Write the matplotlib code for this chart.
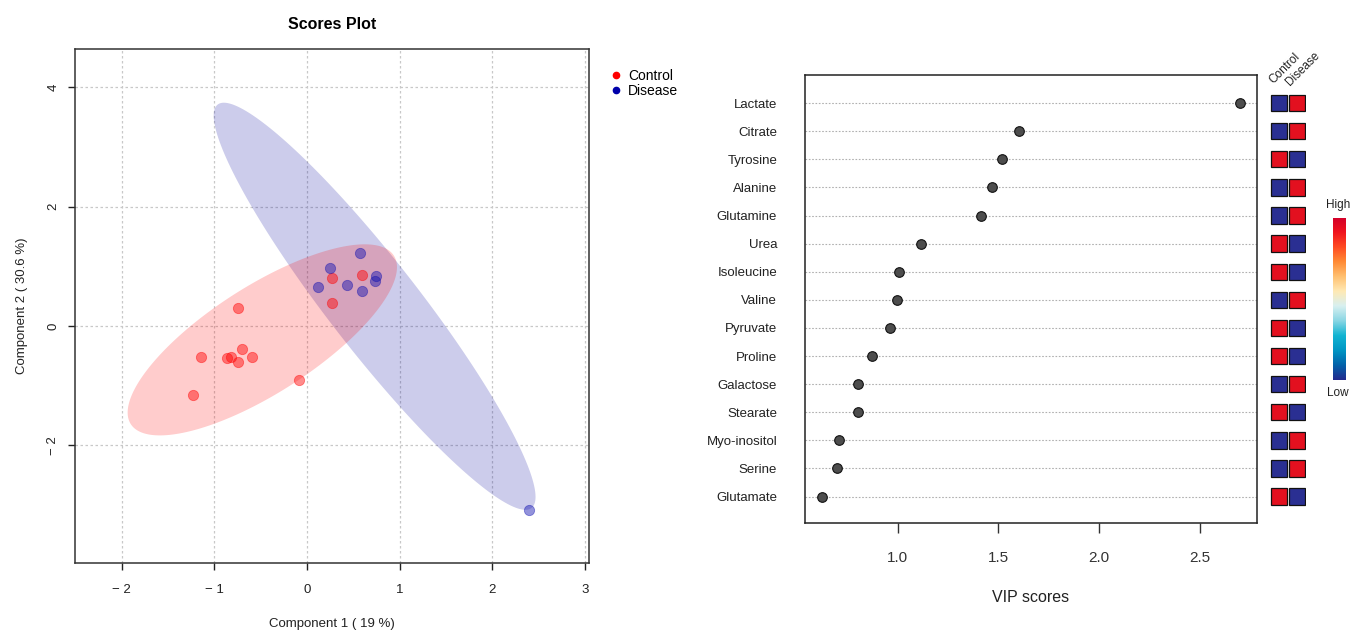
import numpy as np
import matplotlib
matplotlib.use("Agg")
import matplotlib.pyplot as plt
from matplotlib.colors import LinearSegmentedColormap
from matplotlib.lines import Line2D
from matplotlib.patches import Rectangle, Polygon

plt.rcParams['font.family'] = ['Liberation Sans', 'DejaVu Sans']

# ---- Scores plot data ----
ctrl_x = [-0.75, -1.14, -0.86, -0.82, -0.70, -0.74, -0.59, -0.09, -1.23, 0.27, 0.59, 0.27]
ctrl_y = [0.30, -0.52, -0.53, -0.51, -0.38, -0.60, -0.51, -0.90, -1.16, 0.80, 0.86, 0.38]
dis_x = [0.57, 0.25, 0.12, 0.43, 0.59, 0.73, 0.75, 2.40]
dis_y = [1.22, 0.98, 0.66, 0.69, 0.59, 0.76, 0.84, -3.08]

# ---- VIP data ----
metabolites = ["Lactate", "Citrate", "Tyrosine", "Alanine", "Glutamine", "Urea",
               "Isoleucine", "Valine", "Pyruvate", "Proline", "Galactose",
               "Stearate", "Myo-inositol", "Serine", "Glutamate"]
vip = [2.70, 1.60, 1.52, 1.47, 1.415, 1.117, 1.005, 0.995, 0.963, 0.872,
       0.804, 0.804, 0.707, 0.70, 0.623]
# 1 = high, 0 = low
control_level = [0, 0, 1, 0, 0, 1, 1, 0, 1, 1, 0, 1, 0, 0, 1]
disease_level = [1 - v for v in control_level]

W, H = 1351, 631
fig = plt.figure(figsize=(W / 100, H / 100), dpi=100)


def px(l, t, r, b):
    return [l / W, 1 - b / H, (r - l) / W, (b - t) / H]


def conf_ellipse(x, y, n=200):
    x = np.asarray(x); y = np.asarray(y)
    cov = np.cov(x, y)
    vals, vecs = np.linalg.eigh(cov)
    k = np.sqrt(-2 * np.log(0.05))
    t = np.linspace(0, 2 * np.pi, n)
    circ = np.vstack([np.cos(t), np.sin(t)])
    pts = vecs @ (np.sqrt(vals)[:, None] * circ) * k
    return np.column_stack([pts[0] + x.mean(), pts[1] + y.mean()])


# ---- left: scores plot ----
ax1 = fig.add_axes(px(74.7, 48.6, 589.5, 563))
red = '#FF0000'
blue = '#00009B'
ax1.add_patch(Polygon(conf_ellipse(dis_x, dis_y), closed=True, facecolor=blue,
                      alpha=0.2, edgecolor='none', zorder=1))
ax1.add_patch(Polygon(conf_ellipse(ctrl_x, ctrl_y), closed=True, facecolor=red,
                      alpha=0.2, edgecolor='none', zorder=1))
ax1.scatter(ctrl_x, ctrl_y, s=55, color=red, alpha=0.45, edgecolors=red,
            linewidths=0.6, zorder=3)
ax1.scatter(dis_x, dis_y, s=55, color='#1010B0', alpha=0.45, edgecolors='#1010B0',
            linewidths=0.6, zorder=3)
ax1.set_xlim(-2.508, 3.05)
ax1.set_ylim(-3.97, 4.65)
ax1.set_xticks([-2, -1, 0, 1, 2, 3])
ax1.set_xticklabels(['\u2212 2', '\u2212 1', '0', '1', '2', '3'])
ax1.set_yticks([-2, 0, 2, 4])
ax1.set_yticklabels(['\u2212 2', '0', '2', '4'], rotation=90, va='center')
ax1.grid(True, color='#C8C8C8', linestyle=(0, (2, 2)), linewidth=0.9)
ax1.set_axisbelow(True)
ax1.tick_params(direction='out', length=5, width=1, labelsize=9.5,
                colors='#222222')
ax1.tick_params(axis='x', pad=10)
ax1.tick_params(axis='y', pad=6)
for sp in ax1.spines.values():
    sp.set_color('#333333')
    sp.set_linewidth(1.1)
ax1.set_title("Scores Plot", fontsize=11.5, fontweight='bold', pad=14)
ax1.set_xlabel("Component 1 ( 19 %)", fontsize=9.5, labelpad=16, color='#222222')
ax1.set_ylabel("Component 2 ( 30.6 %)", fontsize=9.5, labelpad=14, color='#222222')

handles = [Line2D([], [], marker='o', linestyle='none', color=red, markersize=4.5),
           Line2D([], [], marker='o', linestyle='none', color='#0000AA', markersize=4.5)]
fig.legend(handles, ["Control", "Disease"], loc='upper left',
           bbox_to_anchor=(603 / W, 1 - 62 / H), frameon=False, fontsize=10,
           handlelength=0.8, handletextpad=0.5, labelspacing=0.05, borderpad=0)

# ---- right: VIP plot ----
ax2 = fig.add_axes(px(805, 75, 1257, 523))
rows = np.arange(len(metabolites), 0, -1)
for r in rows:
    ax2.axhline(r, color='#B0B0B0', linestyle=(0, (1.5, 1.5)), linewidth=0.8, zorder=1)
ax2.scatter(vip, rows, s=48, color='#4D4D4D', edgecolors='#111111',
            linewidths=0.8, zorder=3)
ax2.set_xlim(0.54, 2.783)
ax2.set_ylim(0.06, 16.0)
ax2.set_xticks([1.0, 1.5, 2.0, 2.5])
ax2.set_xticklabels(['1.0', '1.5', '2.0', '2.5'])
ax2.set_yticks(rows)
ax2.set_yticklabels(metabolites)
ax2.tick_params(axis='x', direction='out', length=7, width=1, labelsize=11,
                pad=13, colors='#333333')
ax2.tick_params(axis='y', length=0, labelsize=9.5, pad=20, colors='#222222')
for sp in ax2.spines.values():
    sp.set_color('#222222')
    sp.set_linewidth(1.1)
ax2.set_xlabel("VIP scores", fontsize=11.5, labelpad=18.5, color='#222222')

# ---- heat squares ----
ax3 = fig.add_axes(px(1270, 75, 1306, 523))
ax3.set_xlim(0, 2)
ax3.set_ylim(0.06, 16.0)
ax3.axis('off')
sq_red = '#E3101F'
sq_blue = '#2A2F92'
for r, c, d in zip(rows, control_level, disease_level):
    for col, lev in enumerate([c, d]):
        ax3.add_patch(Rectangle((col + 0.04, r - 0.29), 0.92, 0.58,
                                facecolor=sq_red if lev else sq_blue,
                                edgecolor='#111111', linewidth=0.9))
ax3.text(0.2, 15.68, "Control", rotation=45, rotation_mode='anchor',
         ha='left', va='baseline', fontsize=8.5, clip_on=False, color='#222222')
ax3.text(1.1, 15.62, "Disease", rotation=45, rotation_mode='anchor',
         ha='left', va='baseline', fontsize=8.5, clip_on=False, color='#222222')

# ---- colour key ----
cmap = LinearSegmentedColormap.from_list(
    "key", ['#222A8E', '#0262AA', '#0096C4', '#12B4D2', '#8AD6E4', '#D8F0F0',
            '#FFE9B4', '#FFC070', '#FF8A34', '#FF4A22', '#F0141E', '#D2002A'])
ax4 = fig.add_axes(px(1333, 218, 1346, 380))
ax4.imshow(np.linspace(0, 1, 256)[:, None], aspect='auto', cmap=cmap,
           origin='lower')
ax4.axis('off')
fig.text(1338 / W, 1 - 205 / H, "High", ha='center', va='center', fontsize=8.5,
         color='#222222')
fig.text(1338 / W, 1 - 393 / H, "Low", ha='center', va='center', fontsize=8.5,
         color='#222222')

fig.savefig("out.png", dpi=100)
